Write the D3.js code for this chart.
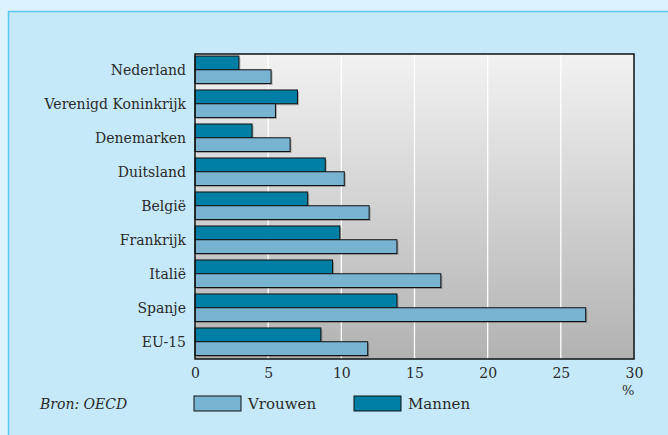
<!DOCTYPE html>
<html><head><meta charset="utf-8">
<script src="https://cdn.jsdelivr.net/npm/d3@7"></script>
<style>html,body{margin:0;padding:0;background:#dcf2fc;}svg{display:block;}</style>
</head><body><svg id="c" width="668" height="435"></svg>
<script>
const categories = ["Nederland","Verenigd Koninkrijk","Denemarken","Duitsland","België","Frankrijk","Italië","Spanje","EU-15"];
const mannen  = [3.0, 7.0, 3.9, 8.9, 7.7, 9.9, 9.4, 13.8, 8.6];
const vrouwen = [5.2, 5.5, 6.5, 10.2, 11.9, 13.8, 16.8, 26.7, 11.8];
const xTicks = [0,5,10,15,20,25,30];
const seriesNames = ["Vrouwen","Mannen"];
const colors = {Vrouwen:"#78b4d2", Mannen:"#007fa6"};
const source = "Bron: OECD";

const svg = d3.select("#c");
const font = "DejaVu Serif, serif";
const textColor = "#2a2a2a";

// panel
svg.append("rect").attr("x",8).attr("y",11).attr("width",700).attr("height",500).attr("fill","#c5e9f9");
svg.append("line").attr("x1",8).attr("x2",668).attr("y1",11.5).attr("y2",11.5).attr("stroke","#5cc6ee").attr("stroke-width",1.5);
svg.append("line").attr("x1",8.5).attr("x2",8.5).attr("y1",11).attr("y2",435).attr("stroke","#5cc6ee").attr("stroke-width",1.5);

const L=195, R=634, T=54, B=359;
const x = d3.scaleLinear().domain([0,30]).range([L,R]);
const y = d3.scaleBand().domain(categories).range([56,355.5]).paddingInner(0.19).paddingOuter(0);
const sub = d3.scaleBand().domain(["Mannen","Vrouwen"]).range([0,y.bandwidth()]);

const defs = svg.append("defs");
const grad = defs.append("linearGradient").attr("id","bg").attr("x1",0).attr("x2",0).attr("y1",0).attr("y2",1);
grad.append("stop").attr("offset","0%").attr("stop-color","#f2f2f2");
grad.append("stop").attr("offset","100%").attr("stop-color","#b2b2b2");

svg.append("rect").attr("x",L).attr("y",T).attr("width",R-L).attr("height",B-T).attr("fill","url(#bg)");

// gridlines
svg.append("g").selectAll("line").data(xTicks.filter(d=>d>0&&d<30)).join("line")
  .attr("x1",d=>x(d)).attr("x2",d=>x(d)).attr("y1",T).attr("y2",B)
  .attr("stroke","#ffffff").attr("stroke-width",1.3);

// bars
const rows = [];
categories.forEach((c,i)=>{
  rows.push({cat:c, s:"Mannen", v:mannen[i]});
  rows.push({cat:c, s:"Vrouwen", v:vrouwen[i]});
});
const g = svg.append("g");
g.selectAll("rect.sh").data(rows).join("rect").attr("class","sh")
  .attr("x",x(0)+1.5).attr("y",d=>y(d.cat)+sub(d.s)+1.5)
  .attr("width",d=>x(d.v)-x(0)).attr("height",sub.bandwidth())
  .attr("fill","#000").attr("opacity",0.25);
g.selectAll("rect.bar").data(rows).join("rect").attr("class","bar")
  .attr("x",x(0)).attr("y",d=>y(d.cat)+sub(d.s))
  .attr("width",d=>x(d.v)-x(0)).attr("height",sub.bandwidth())
  .attr("fill",d=>colors[d.s]).attr("stroke","#111").attr("stroke-width",1);

// frame
svg.append("rect").attr("x",L).attr("y",T).attr("width",R-L).attr("height",B-T)
  .attr("fill","none").attr("stroke","#111").attr("stroke-width",1.5);

// y labels
svg.append("g").selectAll("text").data(categories).join("text")
  .attr("x",186).attr("y",d=>y(d)+y.bandwidth()/2+5)
  .attr("text-anchor","end").attr("font-family",font).attr("font-size",14).attr("fill",textColor)
  .text(d=>d);

// x axis labels
const xa = svg.append("g").attr("transform",`translate(0,${B})`)
  .call(d3.axisBottom(x).tickValues(xTicks).tickSize(0).tickPadding(9).tickFormat(d3.format("d")));
xa.select(".domain").remove();
xa.selectAll("text").attr("font-family",font).attr("font-size",14).attr("fill",textColor);

svg.append("text").attr("x",x(30)-12).attr("y",395).attr("font-family",font).attr("font-size",13).attr("fill",textColor).text("%");

// source
svg.append("text").attr("x",40).attr("y",409).attr("font-family",font).attr("font-style","italic").attr("font-size",14).attr("fill",textColor).text(source);

// legend
const leg = svg.append("g").selectAll("g").data(seriesNames).join("g")
  .attr("transform",(d,i)=>`translate(${194+i*160},396)`);
leg.append("rect").attr("width",47).attr("height",15).attr("fill",d=>colors[d]).attr("stroke","#111").attr("stroke-width",1);
leg.append("text").attr("x",54).attr("y",13).attr("font-family",font).attr("font-size",15).attr("fill",textColor).text(d=>d);
</script></body></html>
